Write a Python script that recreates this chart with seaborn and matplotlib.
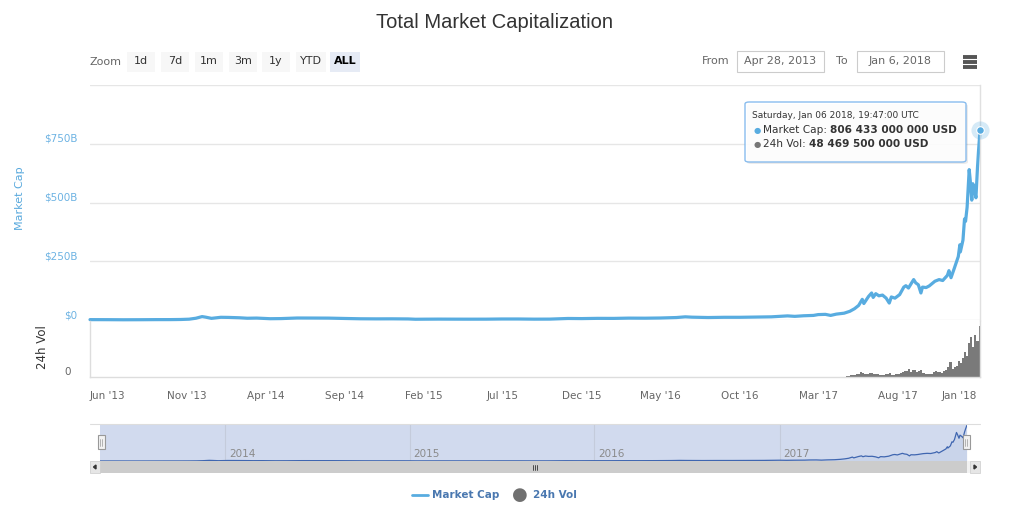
import matplotlib
matplotlib.use("Agg")
import matplotlib.pyplot as plt
from matplotlib.patches import Rectangle, FancyBboxPatch, Polygon
from matplotlib.lines import Line2D
import seaborn as sns
import pandas as pd

# ---------------- data ----------------
mc_dates = [
    "2013-04-28", "2013-06-01", "2013-07-01", "2013-08-01", "2013-09-01", "2013-10-01",
    "2013-10-20", "2013-11-05", "2013-11-18", "2013-11-30", "2013-12-07", "2013-12-18",
    "2014-01-05", "2014-01-20", "2014-02-10", "2014-02-25", "2014-03-15", "2014-04-10",
    "2014-05-01", "2014-06-01", "2014-07-01", "2014-08-01", "2014-09-01", "2014-10-01",
    "2014-11-01", "2014-12-01", "2015-01-01", "2015-01-15", "2015-02-01", "2015-03-01",
    "2015-04-01", "2015-05-01", "2015-06-01", "2015-07-01", "2015-08-01", "2015-09-01",
    "2015-10-01", "2015-11-05", "2015-12-01", "2016-01-01", "2016-02-01", "2016-03-01",
    "2016-04-01", "2016-05-01", "2016-06-01", "2016-06-18", "2016-07-01", "2016-08-01",
    "2016-09-01", "2016-10-01", "2016-11-01", "2016-12-01", "2017-01-01", "2017-01-15",
    "2017-02-01", "2017-02-20", "2017-03-01", "2017-03-15", "2017-03-25", "2017-04-05",
    "2017-04-20", "2017-05-01", "2017-05-10", "2017-05-18", "2017-05-25", "2017-05-28",
    "2017-06-06", "2017-06-12", "2017-06-15", "2017-06-20", "2017-06-26", "2017-07-03",
    "2017-07-10", "2017-07-16", "2017-07-20", "2017-07-27", "2017-08-05", "2017-08-13",
    "2017-08-17", "2017-08-22", "2017-09-01", "2017-09-05", "2017-09-10", "2017-09-15",
    "2017-09-18", "2017-09-25", "2017-10-01", "2017-10-12", "2017-10-20", "2017-10-27",
    "2017-11-05", "2017-11-08", "2017-11-12", "2017-11-18", "2017-11-26", "2017-11-29",
    "2017-11-30", "2017-12-05", "2017-12-08", "2017-12-10", "2017-12-13", "2017-12-17",
    "2017-12-19", "2017-12-22", "2017-12-24", "2017-12-27", "2017-12-30", "2018-01-02",
    "2018-01-04", "2018-01-06 19:47",
]
mc_values = [  # billions USD
    1.6, 1.4, 1.0, 1.2, 1.6, 1.7,
    2.2, 3.5, 7.5, 14.5, 12.0, 7.0,
    11.5, 11.0, 9.5, 7.5, 8.2, 5.5,
    6.0, 8.5, 8.3, 8.0, 6.5, 5.2,
    4.8, 5.0, 4.5, 3.2, 3.5, 3.8,
    3.6, 3.5, 3.6, 4.3, 4.3, 3.6,
    3.8, 6.5, 6.0, 7.0, 6.8, 8.0,
    7.7, 8.5, 10.5, 13.5, 12.0, 10.5,
    11.5, 11.5, 12.5, 13.5, 17.5, 15.5,
    18.0, 19.5, 23.0, 24.0, 19.5, 25.0,
    29.0, 37.0, 48.0, 62.0, 88.0, 70.0,
    100.0, 115.0, 96.0, 112.0, 103.0, 106.0,
    93.0, 72.0, 98.0, 93.0, 108.0, 140.0,
    146.0, 136.0, 172.0, 158.0, 150.0, 115.0,
    140.0, 138.0, 145.0, 165.0, 172.0, 168.0,
    190.0, 210.0, 180.0, 218.0, 270.0, 320.0,
    290.0, 340.0, 430.0, 420.0, 480.0, 640.0,
    595.0, 510.0, 580.0, 555.0, 520.0, 650.0,
    720.0, 806.433,
]
vol_end = "2018-01-06"
vol_values = [  # billions USD, one bar every 4 days
    0.8, 1.2, 1.5, 1.8, 2.0, 2.5, 3.0, 4.5, 3.5, 2.8,
    3.2, 3.5, 4.0, 2.8, 3.0, 2.6, 2.2, 2.0, 2.1, 2.4,
    2.8, 3.5, 2.2, 1.8, 2.5, 3.0, 3.8, 4.5, 5.5, 6.0,
    8.0, 5.0, 6.5, 7.0, 4.5, 5.5, 6.5, 4.0, 3.2, 3.0,
    2.8, 3.2, 4.5, 5.5, 4.8, 5.0, 4.0, 5.5, 7.0, 9.5,
    14.5, 8.0, 9.0, 10.0, 15.0, 13.0, 18.0, 24.0, 20.0, 32.0,
    38.0, 28.0, 40.0, 34.0, 48.4695,
]
x_ticks = ["2013-06-01", "2013-11-01", "2014-04-01", "2014-09-01", "2015-02-01",
           "2015-07-01", "2015-12-01", "2016-05-01", "2016-10-01", "2017-03-01",
           "2017-08-01", "2018-01-01"]
x_tick_labels = ["Jun '13", "Nov '13", "Apr '14", "Sep '14", "Feb '15", "Jul '15",
                 "Dec '15", "May '16", "Oct '16", "Mar '17", "Aug '17", "Jan '18"]
y_ticks = [0, 250, 500, 750, 1000]
y_tick_labels = ["$0", "$250B", "$500B", "$750B", ""]
nav_years = ["2014-01-01", "2015-01-01", "2016-01-01", "2017-01-01"]
nav_year_labels = ["2014", "2015", "2016", "2017"]
zoom_buttons = ["1d", "7d", "1m", "3m", "1y", "YTD", "ALL"]

# ---------------- style ----------------
sns.set_theme(style="white")
plt.rcParams["font.family"] = ["DejaVu Sans"]

LINE = "#58ace0"
W, H = 1024, 509
fig = plt.figure(figsize=(W / 100, H / 100), dpi=100)
fig.patch.set_facecolor("white")


def rect(x0, y0, x1, y1):
    return [x0 / W, 1 - y1 / H, (x1 - x0) / W, (y1 - y0) / H]


def fx(x):
    return x / W


def fy(y):
    return 1 - y / H


df = pd.DataFrame({"date": pd.to_datetime(mc_dates, format="mixed"), "cap": mc_values})
vdf = pd.DataFrame({"date": pd.date_range(end=vol_end, periods=len(vol_values), freq="4D"),
                    "vol": vol_values})
x0 = pd.Timestamp("2013-04-28")
x1 = pd.Timestamp("2018-01-06 19:47")

# ---------------- main panel ----------------
ax1 = fig.add_axes(rect(90, 85, 980, 320))
sns.lineplot(data=df, x="date", y="cap", ax=ax1, color=LINE, lw=2.3, clip_on=False)
ax1.scatter([df["date"].iloc[-1]], [df["cap"].iloc[-1]], s=170, color=LINE, alpha=0.25,
            lw=0, clip_on=False, zorder=5)
ax1.scatter([df["date"].iloc[-1]], [df["cap"].iloc[-1]], s=30, color=LINE,
            edgecolor="white", lw=0.8, clip_on=False, zorder=6)
ax1.set_xlim(x0, x1)
ax1.set_ylim(0, 1000)
ax1.set_yticks(y_ticks)
ax1.set_yticklabels(y_tick_labels)
for lab in ax1.get_yticklabels():
    lab.set_color("#6db3e3")
    lab.set_fontsize(7.5)
    lab.set_va("bottom")
ax1.tick_params(axis="y", length=0, pad=9)
ax1.grid(axis="y", color="#e6e6e6", lw=1)
ax1.set_xlabel("")
ax1.set_ylabel("")
ax1.tick_params(axis="x", bottom=False, labelbottom=False)
for s in ["left", "top", "bottom"]:
    ax1.spines[s].set_visible(False)
ax1.spines["right"].set_color("#e0e0e0")
ax1.spines["right"].set_linewidth(1)
ax1.set_facecolor("none")

fig.text(fx(20), fy(198), "Market Cap", rotation=90, ha="center", va="center",
         color="#59a9dd", fontsize=8)

# ---------------- volume panel ----------------
ax2 = fig.add_axes(rect(90, 321, 980, 377))
ax2.bar(vdf["date"], vdf["vol"], width=4, color="#7a7a7a", align="center", lw=0)
ax2.set_xlim(x0, x1)
ax2.set_ylim(0, 53)
ax2.set_yticks([0])
ax2.set_yticklabels(["0"])
for lab in ax2.get_yticklabels():
    lab.set_color("#666666")
    lab.set_fontsize(7.5)
    lab.set_va("bottom")
ax2.tick_params(axis="y", length=0, pad=14)
ax2.set_xticks(pd.to_datetime(x_ticks))
ax2.set_xticklabels(x_tick_labels)
labs = ax2.get_xticklabels()
for lab in labs:
    lab.set_color("#666666")
    lab.set_fontsize(7.5)
labs[-1].set_ha("right")
ax2.tick_params(axis="x", length=5, color="#ccd6eb", pad=5, width=1)
ax2.spines["top"].set_visible(False)
for s in ["left", "right", "bottom"]:
    ax2.spines[s].set_color("#dddddd")
    ax2.spines[s].set_linewidth(1)
ax2.set_facecolor("none")
fig.text(fx(42), fy(347), "24h Vol", rotation=90, ha="center", va="center",
         color="#333333", fontsize=8.5)

# ---------------- title & toolbar ----------------
fig.text(fx(494), fy(22), "Total Market Capitalization", ha="center", va="center",
         fontsize=14.5, color="#333333", family="Liberation Sans")

fig.text(fx(105), fy(62), "Zoom", ha="center", va="center", fontsize=8, color="#666666")
btn_centers = [141, 175, 209, 243, 276, 311, 345]
btn_widths = [28, 28, 28, 28, 28, 30, 30]
for label, cx, bw in zip(zoom_buttons, btn_centers, btn_widths):
    sel = label == "ALL"
    fig.patches.append(Rectangle((fx(cx - bw / 2), fy(72)), bw / W, 20 / H,
                                 transform=fig.transFigure,
                                 facecolor="#e6ebf5" if sel else "#f7f7f7",
                                 edgecolor="none", zorder=1))
    fig.text(fx(cx), fy(61.5), label, ha="center", va="center", fontsize=8,
             color="#000000" if sel else "#333333",
             fontweight="bold" if sel else "normal", zorder=2)

fig.text(fx(716), fy(61), "From", ha="center", va="center", fontsize=8, color="#666666")
fig.text(fx(842), fy(61), "To", ha="center", va="center", fontsize=8, color="#666666")
for bx0, bx1, txt in [(737, 824, "Apr 28, 2013"), (857, 944, "Jan 6, 2018")]:
    fig.patches.append(Rectangle((fx(bx0), fy(72)), (bx1 - bx0) / W, 21 / H,
                                 transform=fig.transFigure, facecolor="white",
                                 edgecolor="#cccccc", lw=0.8))
    fig.text(fx((bx0 + bx1) / 2), fy(61), txt, ha="center", va="center",
             fontsize=8, color="#666666")
for yy in [57, 62, 67]:
    fig.lines.append(Line2D([fx(963), fx(977)], [fy(yy), fy(yy)],
                            transform=fig.transFigure, color="#555555", lw=2.8,
                            solid_capstyle="butt"))

# ---------------- tooltip ----------------
fig.patches.append(FancyBboxPatch((fx(747), fy(164)), 221 / W, 60 / H,
                                  boxstyle="round,pad=0,rounding_size=0.004",
                                  transform=fig.transFigure, facecolor="#000000",
                                  alpha=0.08, edgecolor="none", zorder=7))
fig.patches.append(FancyBboxPatch((fx(745), fy(162)), 221 / W, 60 / H,
                                  boxstyle="round,pad=0,rounding_size=0.004",
                                  transform=fig.transFigure, facecolor="white",
                                  alpha=0.9, edgecolor="#7cb5ec", lw=1, zorder=8))
fig.text(fx(752), fy(116), "Saturday, Jan 06 2018, 19:47:00 UTC", ha="left", va="center",
         fontsize=6.5, color="#333333", zorder=9)
renderer = fig.canvas.get_renderer()
for yy, col, name, val in [(130, LINE, "Market Cap: ", "806 433 000 000 USD"),
                           (144, "#777777", "24h Vol: ", "48 469 500 000 USD")]:
    fig.text(fx(757), fy(yy), "\u25CF", ha="center", va="center", fontsize=6,
             color=col, zorder=9)
    t = fig.text(fx(763), fy(yy), name, ha="left", va="center", fontsize=7.6,
                 color="#333333", zorder=9)
    bb = t.get_window_extent(renderer)
    fig.text(bb.x1 / W, fy(yy), val, ha="left", va="center", fontsize=7.6,
             color="#333333", fontweight="bold", zorder=9)

# ---------------- navigator ----------------
fig.patches.append(Rectangle((fx(90), fy(473)), 890 / W, 12 / H, transform=fig.transFigure,
                             facecolor="#f2f2f2", edgecolor="none"))
fig.patches.append(Rectangle((fx(100), fy(473)), 867 / W, 12 / H, transform=fig.transFigure,
                             facecolor="#cccccc", edgecolor="none"))
for bx in [90, 970]:
    fig.patches.append(Rectangle((fx(bx), fy(473)), 10 / W, 12 / H, transform=fig.transFigure,
                                 facecolor="#e6e6e6", edgecolor="#cccccc", lw=0.5))
fig.patches.append(Polygon([(fx(93.5), fy(467)), (fx(96), fy(465)), (fx(96), fy(469))],
                           closed=True, transform=fig.transFigure, color="#333333"))
fig.patches.append(Polygon([(fx(976.5), fy(467)), (fx(974), fy(465)), (fx(974), fy(469))],
                           closed=True, transform=fig.transFigure, color="#333333"))
for gx in [533, 535, 537]:
    fig.lines.append(Line2D([fx(gx), fx(gx)], [fy(464.5), fy(469.5)],
                            transform=fig.transFigure, color="#333333", lw=0.6))

ax3 = fig.add_axes(rect(100, 424, 967, 461))
ax3.set_facecolor("#d1daee")
sns.lineplot(data=df, x="date", y="cap", ax=ax3, color="#3f66b0", lw=0.9)
ax3.fill_between(df["date"], df["cap"], color="#3f66b0", alpha=0.05, lw=0)
ax3.set_xlim(x0, x1)
ax3.set_ylim(0, 830)
ax3.set_xticks(pd.to_datetime(nav_years))
ax3.set_xticklabels([])
ax3.grid(axis="x", color="#c4cbdb", lw=0.8)
ax3.tick_params(length=0)
ax3.set_yticks([])
ax3.set_xlabel("")
ax3.set_ylabel("")
for s in ax3.spines.values():
    s.set_visible(False)
for d, lab in zip(nav_years, nav_year_labels):
    ax3.text(pd.Timestamp(d) + pd.Timedelta(days=7), 0.2, lab, transform=ax3.get_xaxis_transform(),
             ha="left", va="center", fontsize=7.5, color="#8a8a8a")
fig.lines.append(Line2D([fx(90), fx(980)], [fy(424), fy(424)], transform=fig.transFigure,
                        color="#dddddd", lw=0.8))
for hx in [101, 966]:
    fig.patches.append(Rectangle((fx(hx - 3.5), fy(449)), 7 / W, 14 / H,
                                 transform=fig.transFigure, facecolor="#f2f2f2",
                                 edgecolor="#999999", lw=0.8, zorder=5))
    for lx in [hx - 1, hx + 1]:
        fig.lines.append(Line2D([fx(lx), fx(lx)], [fy(439), fy(446)],
                                transform=fig.transFigure, color="#999999", lw=0.5, zorder=6))

# ---------------- legend ----------------
fig.lines.append(Line2D([fx(412), fx(428)], [fy(495), fy(495)], transform=fig.transFigure,
                        color=LINE, lw=2))
fig.text(fx(432), fy(495), "Market Cap", ha="left", va="center", fontsize=7.5,
         fontweight="bold", color="#4a78b0")
fig.text(fx(520), fy(495), "\u25CF", ha="center", va="center", fontsize=13, color="#707070")
fig.text(fx(533), fy(495), "24h Vol", ha="left", va="center", fontsize=7.5,
         fontweight="bold", color="#4a78b0")

fig.savefig("out.png", dpi=100, facecolor="white")
